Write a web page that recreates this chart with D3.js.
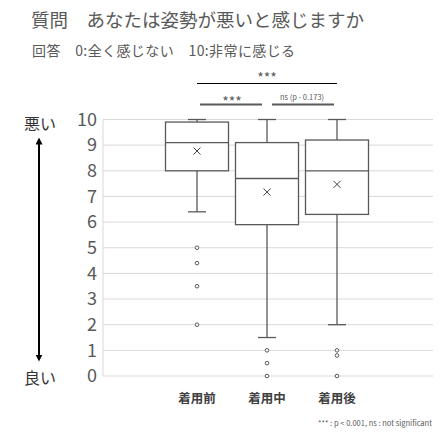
<!DOCTYPE html>
<html>
<head>
<meta charset="utf-8">
<script src="https://cdn.jsdelivr.net/npm/d3@7"></script>
<style>
  body { margin: 0; background: #fff; }
  text { font-family: "Noto Sans CJK JP", sans-serif; white-space: pre; }
</style>
</head>
<body>
<div id="chart"></div>
<script>
// box plot summary per group
const categories = ['着用前', '着用中', '着用後'];
const whiskerLow = [6.4, 1.5, 2];
const q1 = [8, 5.9, 6.3];
const median = [9.1, 7.7, 8];
const q3 = [9.9, 9.1, 9.2];
const whiskerHigh = [10, 10, 10];
const means = [8.77, 7.17, 7.47];
const outliers = [[5, 4.4, 3.5, 2], [1, 0.5, 0], [1, 0.8, 0]];
const yTicks = [0, 1, 2, 3, 4, 5, 6, 7, 8, 9, 10];

const W = 441, H = 435;
const plot = {left: 103, right: 433, top: 119.5, bottom: 376};

const svg = d3.select('#chart').append('svg')
    .attr('width', W)
    .attr('height', H);

const y = d3.scaleLinear().domain([0, 10]).range([plot.bottom, plot.top]);
const x = d3.scaleBand().domain(categories)
    .range([162, 372])
    .paddingInner(0.1)
    .paddingOuter(0.05);
const cx = d => x(d) + x.bandwidth() / 2;

// titles
svg.append('text')
    .attr('x', 31).attr('y', 27)
    .attr('font-size', 18.5)
    .attr('fill', '#595959')
    .text('質問　あなたは姿勢が悪いと感じますか');

svg.append('text')
    .attr('x', 32).attr('y', 56)
    .attr('font-size', 14)
    .attr('letter-spacing', 0.4)
    .attr('fill', '#595959')
    .text('回答　0:全く感じない　10:非常に感じる');

// grid
svg.append('g')
    .selectAll('line')
    .data(yTicks)
    .join('line')
    .attr('x1', plot.left).attr('x2', plot.right)
    .attr('y1', d => y(d)).attr('y2', d => y(d))
    .attr('stroke', '#d9d9d9')
    .attr('stroke-width', 1);

svg.append('line')
    .attr('x1', plot.left).attr('x2', plot.left)
    .attr('y1', y(10)).attr('y2', y(0))
    .attr('stroke', '#d9d9d9');

// y axis labels
const yAxis = d3.axisLeft(y).tickValues(yTicks).tickSize(0).tickPadding(6);
const gy = svg.append('g')
    .attr('transform', `translate(${plot.left},0)`)
    .call(yAxis);
gy.select('.domain').remove();
gy.selectAll('text')
    .attr('font-family', '"Liberation Sans", Arial, sans-serif')
    .attr('font-size', 18)
    .attr('fill', '#595959');

// x axis labels
const xAxis = d3.axisBottom(x).tickSize(0).tickPadding(18);
const gx = svg.append('g')
    .attr('transform', `translate(0,${plot.bottom})`)
    .call(xAxis);
gx.select('.domain').remove();
gx.selectAll('text')
    .attr('font-family', '"Noto Sans CJK JP", sans-serif')
    .attr('font-size', 12.5)
    .attr('font-weight', 'bold')
    .attr('fill', '#404040');

// boxes
const boxColor = '#595959';
const capW = 18;
const groups = svg.append('g').selectAll('g')
    .data(categories)
    .join('g');

groups.append('line')
    .attr('x1', d => cx(d)).attr('x2', d => cx(d))
    .attr('y1', (d, i) => y(whiskerHigh[i])).attr('y2', (d, i) => y(q3[i]))
    .attr('stroke', boxColor).attr('stroke-width', 1.3);
groups.append('line')
    .attr('x1', d => cx(d)).attr('x2', d => cx(d))
    .attr('y1', (d, i) => y(q1[i])).attr('y2', (d, i) => y(whiskerLow[i]))
    .attr('stroke', boxColor).attr('stroke-width', 1.3);
groups.append('line')
    .attr('x1', d => cx(d) - capW / 2).attr('x2', d => cx(d) + capW / 2)
    .attr('y1', (d, i) => y(whiskerHigh[i])).attr('y2', (d, i) => y(whiskerHigh[i]))
    .attr('stroke', boxColor).attr('stroke-width', 1.3);
groups.append('line')
    .attr('x1', d => cx(d) - capW / 2).attr('x2', d => cx(d) + capW / 2)
    .attr('y1', (d, i) => y(whiskerLow[i])).attr('y2', (d, i) => y(whiskerLow[i]))
    .attr('stroke', boxColor).attr('stroke-width', 1.3);

groups.append('rect')
    .attr('x', d => x(d))
    .attr('width', x.bandwidth())
    .attr('y', (d, i) => y(q3[i]))
    .attr('height', (d, i) => y(q1[i]) - y(q3[i]))
    .attr('fill', '#fff')
    .attr('stroke', boxColor).attr('stroke-width', 1.3);

groups.append('line')
    .attr('x1', d => x(d)).attr('x2', d => x(d) + x.bandwidth())
    .attr('y1', (d, i) => y(median[i])).attr('y2', (d, i) => y(median[i]))
    .attr('stroke', boxColor).attr('stroke-width', 1.3);

// mean markers
const m = 3.5;
groups.append('path')
    .attr('d', (d, i) => {
        const px = cx(d), py = y(means[i]);
        return `M${px - m},${py - m}L${px + m},${py + m}M${px - m},${py + m}L${px + m},${py - m}`;
    })
    .attr('stroke', '#404040').attr('stroke-width', 1);

// outliers
groups.each(function(d, i) {
    d3.select(this).selectAll('circle')
        .data(outliers[i])
        .join('circle')
        .attr('cx', cx(d))
        .attr('cy', v => y(v))
        .attr('r', 1.8)
        .attr('fill', '#fff')
        .attr('stroke', '#595959')
        .attr('stroke-width', 1);
});

// significance brackets
const sig = svg.append('g');
sig.append('line')
    .attr('x1', cx(categories[0])).attr('x2', cx(categories[2]))
    .attr('y1', 83.5).attr('y2', 83.5)
    .attr('stroke', '#000').attr('stroke-width', 1.2);
sig.append('text')
    .attr('x', (cx(categories[0]) + cx(categories[2])) / 2).attr('y', 83)
    .attr('text-anchor', 'middle')
    .attr('font-family', '"DejaVu Sans", sans-serif')
    .attr('font-size', 14).attr('fill', '#595959')
    .text('***');

sig.append('line')
    .attr('x1', cx(categories[0]) + 3).attr('x2', cx(categories[1]) - 5)
    .attr('y1', 104.5).attr('y2', 104.5)
    .attr('stroke', '#595959').attr('stroke-width', 1.8);
sig.append('text')
    .attr('x', (cx(categories[0]) + cx(categories[1])) / 2).attr('y', 106.5)
    .attr('text-anchor', 'middle')
    .attr('font-family', '"DejaVu Sans", sans-serif')
    .attr('font-size', 14).attr('fill', '#595959')
    .text('***');

sig.append('line')
    .attr('x1', cx(categories[1]) + 5).attr('x2', cx(categories[2]) - 3)
    .attr('y1', 104.5).attr('y2', 104.5)
    .attr('stroke', '#595959').attr('stroke-width', 1.8);
sig.append('text')
    .attr('x', (cx(categories[1]) + cx(categories[2])) / 2).attr('y', 100)
    .attr('text-anchor', 'middle')
    .attr('font-size', 7.5).attr('fill', '#595959')
    .text('ns (p - 0.173)');

// left arrow with 悪い / 良い
const defs = svg.append('defs');
defs.append('marker')
    .attr('id', 'arrowhead')
    .attr('viewBox', '0 0 10 10')
    .attr('refX', 5).attr('refY', 5)
    .attr('markerWidth', 3.5).attr('markerHeight', 3.5)
    .attr('orient', 'auto-start-reverse')
    .append('path')
    .attr('d', 'M0,0L10,5L0,10Z')
    .attr('fill', '#000');

svg.append('line')
    .attr('x1', 39).attr('x2', 39)
    .attr('y1', 141).attr('y2', 358)
    .attr('stroke', '#000').attr('stroke-width', 2)
    .attr('marker-start', 'url(#arrowhead)')
    .attr('marker-end', 'url(#arrowhead)');

svg.append('text')
    .attr('x', 40).attr('y', 130)
    .attr('text-anchor', 'middle')
    .attr('font-size', 16).attr('fill', '#333')
    .text('悪い');
svg.append('text')
    .attr('x', 40).attr('y', 384)
    .attr('text-anchor', 'middle')
    .attr('font-size', 16).attr('fill', '#333')
    .text('良い');

// footnote
svg.append('text')
    .attr('x', 432).attr('y', 426)
    .attr('text-anchor', 'end')
    .attr('font-size', 7.5).attr('fill', '#595959')
    .text('*** : p < 0.001, ns : not significant');
</script>
</body>
</html>
